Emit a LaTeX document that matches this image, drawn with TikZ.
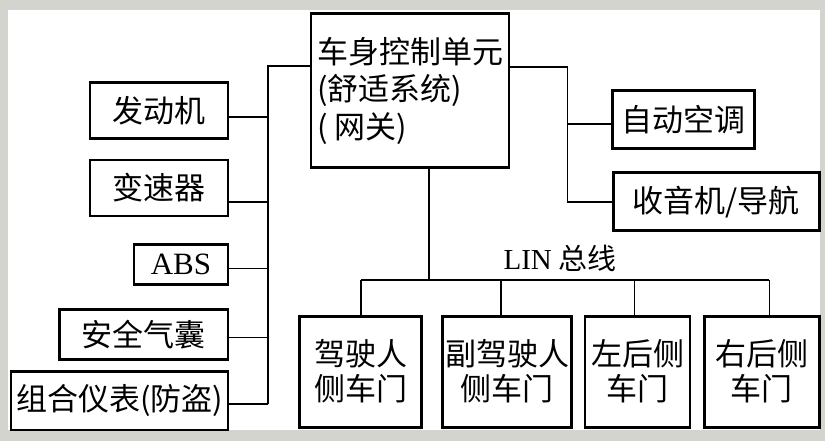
\documentclass[tikz,border=0pt]{standalone}
\usepackage{fontspec}
\setmainfont{Noto Sans CJK SC}
\newfontfamily\latin{Liberation Serif}
\definecolor{framegrey}{RGB}{212,212,206}
\tikzset{
  unit/.style={draw, line width=1.4pt, inner sep=0pt, align=center,
    font=\fontsize{15.5}{17.5}\selectfont},
  gate/.style={unit, align=left, font=\fontsize{15.5}{18.75}\selectfont},
  wire/.style={line width=0.8pt},
  linbus/.style={line width=0.6pt}
}

\begin{document}
\begin{tikzpicture}[x=0.5pt,y=-0.5pt]
    \fill[framegrey] (0,0) rectangle (825,441);
    \fill[white] (8,10) rectangle (820,430);
    \useasboundingbox (0,0) rectangle (825,441);
    % gateway
    \node[gate, minimum width=99pt, minimum height=77.2pt] (bcm) at (410,90.5)
        {车身控制单元\\(舒适系统)\\( 网关)};
    % left side
    \node[unit, minimum width=69pt, minimum height=27.8pt] (eng) at (159,110.5) {发动机};
    \node[unit, minimum width=69pt, minimum height=28pt] (gear) at (159,188) {变速器};
    \node[unit, minimum width=47pt, minimum height=20pt] (abs) at (181,264.3) {\latin ABS};
    \node[unit, minimum width=84.3pt, minimum height=25pt] (airbag) at (143.7,334.3) {安全气囊};
    \node[unit, minimum width=108.5pt, minimum height=29.2pt] (cluster) at (119.5,400.8) {组合仪表(防盗)};
    % right side
    \node[unit, minimum width=70.8pt, minimum height=28.8pt] (ac) at (683.5,119.5) {自动空调};
    \node[unit, minimum width=103pt, minimum height=29pt] (radio) at (716.3,201.7) {收音机/导航};
    % doors
    \node[unit, minimum width=61.2pt, minimum height=55.6pt] (door1) at (360.5,371.7) {驾驶人\\侧车门};
    \node[unit, minimum width=64.7pt, minimum height=55.6pt] (door2) at (507,371.7) {副驾驶人\\侧车门};
    \node[unit, minimum width=52.5pt, minimum height=55.6pt] (door3) at (637.5,371.7) {左后侧\\车门};
    \node[unit, minimum width=57.5pt, minimum height=55.6pt] (door4) at (761.8,371.7) {右后侧\\车门};
    \node[font=\fontsize{14.5}{14.5}\selectfont] (linlabel) at (560,258) {{\latin LIN} 总线};
    % left bus
    \coordinate (ltop) at (268,65.7);
    \foreach \n/\y in {eng/116.7, gear/201.7, abs/268.3, airbag/337.3, cluster/404}{
        \coordinate (j-\n) at (268,\y);
        \draw[wire] (j-\n) -- (j-\n -| \n.east);
    }
    \draw[wire] (bcm.west |- ltop) -- (ltop) -- (j-cluster);
    % right bus
    \coordinate (rtop) at (567.3,66.7);
    \coordinate (j-ac) at (567.3,124);
    \coordinate (j-radio) at (567.3,201.7);
    \draw[wire] (bcm.east |- rtop) -- (rtop) -- (j-radio) -- (j-radio -| radio.west);
    \draw[wire] (j-ac) -- (j-ac -| ac.west);
    % LIN bus
    \coordinate (linmid) at (429,280);
    \draw[wire] (linmid |- bcm.south) -- (linmid);
    \foreach \n/\x in {door1/361, door2/501, door3/634.3, door4/769.3}{
        \coordinate (t-\n) at (\x,280);
        \draw[linbus] (t-\n) -- (t-\n |- \n.north);
    }
    \draw[linbus] (t-door1) -- (t-door4);
\end{tikzpicture}
\end{document}
